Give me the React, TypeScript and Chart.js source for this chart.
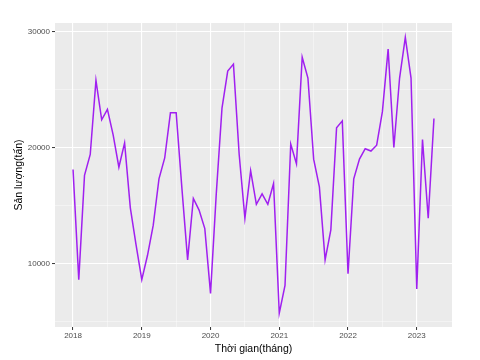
import React, { useEffect, useRef } from "react";
import { Chart, registerables } from "chart.js";

Chart.register(...registerables);

// Monthly production (tấn), Jan 2018 – Apr 2023
const START_YEAR = 2018;
const values2018 = [18100, 8600, 17600, 19400, 25800, 22400, 23300, 21100, 18300, 20400, 14800, 11600];
const values2019 = [8600, 10700, 13300, 17300, 19100, 23000, 23000, 16500, 10300, 15600, 14600, 13000];
const values2020 = [7400, 16000, 23400, 26600, 27200, 19400, 13900, 18000, 15100, 16000, 15100, 16900];
const values2021 = [5700, 8100, 20300, 18600, 27800, 26000, 19000, 16600, 10300, 12900, 21700, 22300];
const values2022 = [9100, 17300, 19000, 19900, 19700, 20200, 23100, 28500, 20000, 26000, 29500, 26000];
const values2023 = [7800, 20700, 13900, 22500];

const xTickValues = [2018, 2018.5, 2019, 2019.5, 2020, 2020.5, 2021, 2021.5, 2022, 2022.5, 2023];
const yTickValues = [5000, 10000, 15000, 20000, 25000, 30000];

const X_MIN = 2017.7375;
const X_MAX = 2023.5125;
const Y_MIN = 4510;
const Y_MAX = 30750;

const FONT = "'Liberation Sans', Arial, sans-serif";

export default function App() {
  const ref = useRef<HTMLCanvasElement | null>(null);

  useEffect(() => {
    const canvas = ref.current;
    if (!canvas) return;
    const all = [...values2018, ...values2019, ...values2020, ...values2021, ...values2022, ...values2023];
    const points = all.map((v, i) => ({ x: START_YEAR + i / 12, y: v }));

    const panelBg = {
      id: "panelBg",
      beforeDraw(chart: any) {
        const { ctx, chartArea } = chart;
        ctx.save();
        ctx.fillStyle = "#FFFFFF";
        ctx.fillRect(0, 0, chart.width, chart.height);
        ctx.fillStyle = "#EBEBEB";
        ctx.fillRect(chartArea.left, chartArea.top, chartArea.right - chartArea.left, chartArea.bottom - chartArea.top);
        ctx.restore();
      },
    };

    const isMajorX = (v: number) => Number.isInteger(v);
    const isMajorY = (v: number) => v % 10000 === 0;

    const chart = new Chart(canvas, {
      type: "line",
      data: {
        datasets: [
          {
            data: points,
            borderColor: "#A020F0",
            borderWidth: 1.5,
            pointRadius: 0,
            tension: 0,
            fill: false,
          },
        ],
      },
      options: {
        responsive: false,
        animation: false,
        devicePixelRatio: 1,
        layout: { padding: { top: 23, right: 28, left: 0, bottom: 0 } },
        plugins: { legend: { display: false }, tooltip: { enabled: false } },
        scales: {
          x: {
            type: "linear",
            min: X_MIN,
            max: X_MAX,
            afterBuildTicks: (scale: any) => {
              scale.ticks = xTickValues.map((v) => ({ value: v }));
            },
            afterFit: (scale: any) => {
              scale.height = 33;
            },
            border: { display: false },
            grid: {
              color: (c: any) => (c.tick && isMajorX(c.tick.value) ? "#FFFFFF" : "rgba(255,255,255,0.75)"),
              lineWidth: (c: any) => (c.tick && isMajorX(c.tick.value) ? 1.1 : 0.55),
              tickColor: (c: any) => (c.tick && isMajorX(c.tick.value) ? "#333333" : "rgba(0,0,0,0)"),
              tickLength: 3,
              tickWidth: 1,
            },
            ticks: {
              autoSkip: false,
              maxRotation: 0,
              padding: 1,
              color: "#4D4D4D",
              font: { family: FONT, size: 8 },
              callback: (v: any) => (isMajorX(Number(v)) ? String(v) : ""),
            },
            title: {
              display: true,
              text: "Thời gian(tháng)",
              color: "#000000",
              font: { family: FONT, size: 10.5 },
              padding: { top: 0, bottom: 5 },
            },
          },
          y: {
            type: "linear",
            min: Y_MIN,
            max: Y_MAX,
            afterBuildTicks: (scale: any) => {
              scale.ticks = yTickValues.map((v) => ({ value: v }));
            },
            afterFit: (scale: any) => {
              scale.width = 55;
            },
            border: { display: false },
            grid: {
              color: (c: any) => (c.tick && isMajorY(c.tick.value) ? "#FFFFFF" : "rgba(255,255,255,0.75)"),
              lineWidth: (c: any) => (c.tick && isMajorY(c.tick.value) ? 1.1 : 0.55),
              tickColor: (c: any) => (c.tick && isMajorY(c.tick.value) ? "#333333" : "rgba(0,0,0,0)"),
              tickLength: 3,
              tickWidth: 1,
            },
            ticks: {
              autoSkip: false,
              padding: 2,
              color: "#4D4D4D",
              font: { family: FONT, size: 8 },
              callback: (v: any) => (isMajorY(Number(v)) ? String(v) : ""),
            },
            title: {
              display: true,
              text: "Sản lượng(tấn)",
              color: "#000000",
              font: { family: FONT, size: 10.5 },
              padding: { top: 13, bottom: 0 },
            },
          },
        },
      },
      plugins: [panelBg],
    } as any);

    return () => chart.destroy();
  }, []);

  return (
    <div style={{ position: "fixed", left: 0, top: 0, width: 480, height: 360, background: "#FFFFFF" }}>
      <canvas ref={ref} width={480} height={360} style={{ display: "block", width: 480, height: 360 }} />
    </div>
  );
}
